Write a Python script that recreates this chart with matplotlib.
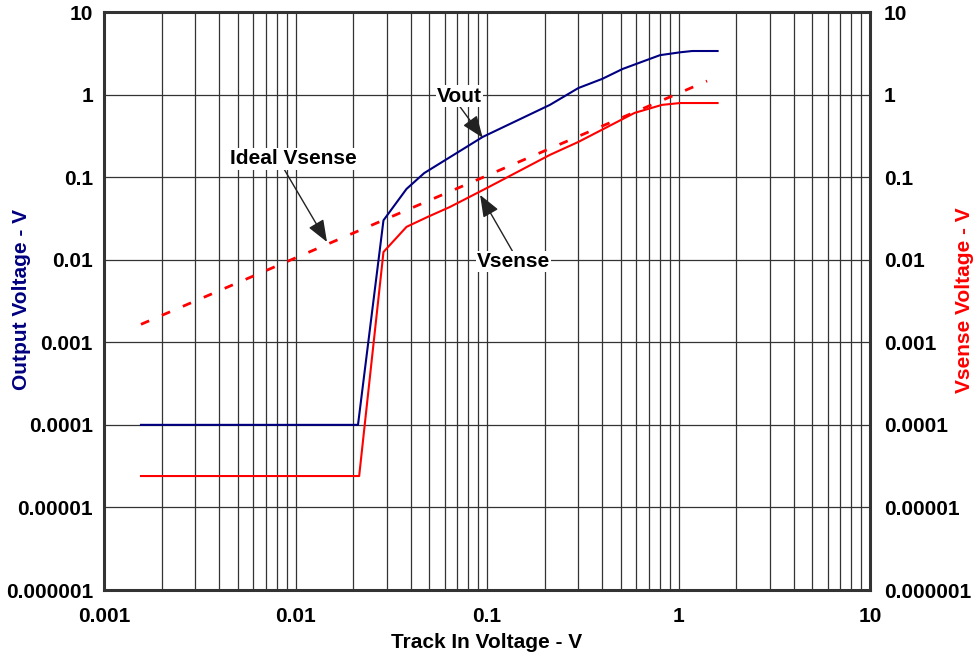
import numpy as np
import matplotlib as mpl
import matplotlib.pyplot as plt
from matplotlib.ticker import LogLocator, NullFormatter, FixedLocator

mpl.rcParams['font.family'] = ['Liberation Sans', 'DejaVu Sans']
mpl.rcParams['font.weight'] = 'bold'

# data
vout_x = [0.00156, 0.0212, 0.0288, 0.038, 0.047, 0.095, 0.213, 0.30, 0.40, 0.51, 0.80, 1.02, 1.18, 1.6]
vout_y = [1e-4, 1e-4, 0.030, 0.072, 0.112, 0.307, 0.75, 1.2, 1.55, 2.04, 3.0, 3.25, 3.37, 3.37]

vsense_x = [0.00156, 0.0215, 0.0288, 0.038, 0.049, 0.064, 0.10, 0.213, 0.30, 0.59, 0.82, 1.02, 1.6]
vsense_y = [2.4e-5, 2.4e-5, 0.0124, 0.025, 0.033, 0.0435, 0.074, 0.186, 0.267, 0.60, 0.75, 0.79, 0.79]

ideal_x = [0.00156, 1.41]
ideal_y = [0.00165, 1.46]

yticks = [1e-6, 1e-5, 1e-4, 1e-3, 1e-2, 1e-1, 1, 10]
ytick_labels = ['0.000001', '0.00001', '0.0001', '0.001', '0.01', '0.1', '1', '10']
xticks = [0.001, 0.01, 0.1, 1, 10]
xtick_labels = ['0.001', '0.01', '0.1', '1', '10']

navy = '#000080'
red = '#ff0000'
gridc = '#333333'

fig = plt.figure(figsize=(9.74, 6.52), dpi=100)
ax = fig.add_axes([104/974, 62/652, 766/974, 578/652])

ax.plot(ideal_x, ideal_y, color=red, lw=2.0, dashes=(3.2, 5.0), zorder=3)
ax.plot(vout_x, vout_y, color=navy, lw=1.5, zorder=4)
ax.plot(vsense_x, vsense_y, color=red, lw=1.5, zorder=4)

ax.set_xscale('log')
ax.set_yscale('log')
ax.set_xlim(0.001, 10)
ax.set_ylim(1e-6, 10)
ax.set_xticks(xticks, xtick_labels)
ax.xaxis.set_minor_locator(LogLocator(base=10, subs=np.arange(2, 10)))
ax.xaxis.set_minor_formatter(NullFormatter())
ax.set_yticks(yticks, ytick_labels)
ax.yaxis.set_minor_locator(FixedLocator([]))
ax.tick_params(axis='both', which='both', length=0, labelsize=15)
ax.tick_params(axis='x', pad=12)
ax.tick_params(axis='y', pad=8)
ax.grid(which='major', axis='both', color=gridc, lw=0.9)
ax.grid(which='minor', axis='x', color=gridc, lw=0.9)
ax.set_axisbelow(True)
for sp in ax.spines.values():
    sp.set_linewidth(2.2)
    sp.set_color('#333333')
    sp.set_zorder(5)

ax.set_xlabel('Track In Voltage - V', fontsize=15, fontweight='bold', labelpad=5)

ax2 = ax.twinx()
ax2.set_yscale('log')
ax2.set_ylim(1e-6, 10)
ax2.set_yticks(yticks, ytick_labels)
ax2.yaxis.set_minor_locator(FixedLocator([]))
ax2.tick_params(axis='y', which='both', length=0, labelsize=15, pad=10)
for sp in ax2.spines.values():
    sp.set_visible(False)

# axis titles placed where the reference has them
fig.text(22/974, 1 - 300/652, 'Output Voltage - V', rotation=90, fontsize=15,
         fontweight='bold', color=navy, ha='center', va='center')
fig.text(964/974, 1 - 300/652, 'Vsense Voltage - V', rotation=90, fontsize=15,
         fontweight='bold', color=red, ha='center', va='center')

box = dict(boxstyle='square,pad=0.05', fc='white', ec='none')
arrow = dict(arrowstyle='-|>,head_length=0.9,head_width=0.35', color='#222222',
             lw=1.0, shrinkA=0, shrinkB=0)

ax.annotate('Vout', xy=(0.095, 0.30), xytext=(0.0715, 0.96), fontsize=15,
            fontweight='bold', ha='center', va='center', bbox=box,
            arrowprops=dict(arrow, relpos=(0.5, 0.0)), zorder=6)
ax.annotate('Ideal Vsense', xy=(0.0146, 0.0164), xytext=(0.0098, 0.166), fontsize=15,
            fontweight='bold', ha='center', va='center', bbox=box,
            arrowprops=dict(arrow, relpos=(0.42, 0.0)), zorder=6)
ax.annotate('Vsense', xy=(0.092, 0.061), xytext=(0.137, 0.0094), fontsize=15,
            fontweight='bold', ha='center', va='center', bbox=box,
            arrowprops=dict(arrow, relpos=(0.5, 1.0)), zorder=6)

fig.savefig('out.png', dpi=100)
